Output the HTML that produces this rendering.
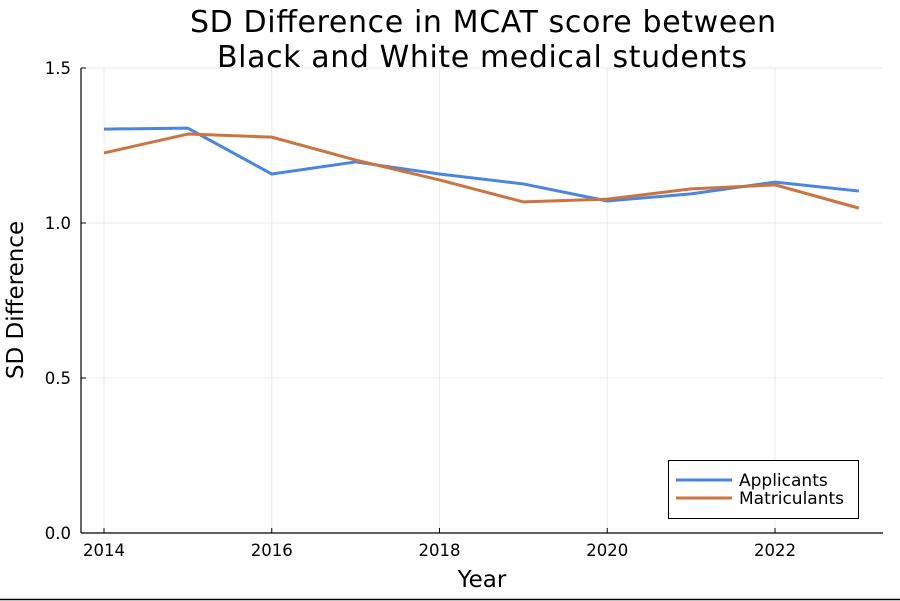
<!DOCTYPE html>
<html><head><meta charset="utf-8"><style>
body{margin:0;background:#fff;}
svg{display:block;font-family:"DejaVu Sans","Liberation Sans",sans-serif;}
</style></head><body>
<svg id="c" width="900" height="601">
<rect x="0" y="0" width="900" height="601" fill="#fff"/>
<text x="483" y="32" font-size="30" text-anchor="middle" textLength="586">SD Difference in MCAT score between</text>
<text x="482" y="67" font-size="30" text-anchor="middle" textLength="530">Black and White medical students</text>
<g id="grid"></g>
<g id="axes"></g>
<g id="series"></g>
<text x="482" y="587" font-size="23" text-anchor="middle">Year</text>
<text transform="translate(23,300) rotate(-90)" font-size="23" text-anchor="middle">SD Difference</text>
<g>
<rect x="668.5" y="460.5" width="190" height="58" fill="#fff" stroke="#000" stroke-width="1"/>
<line x1="676" y1="480" x2="732" y2="480" stroke="#4a86e0" stroke-width="3"/>
<text x="739" y="486" font-size="17">Applicants</text>
<line x1="676" y1="498" x2="732" y2="498" stroke="#cb7440" stroke-width="3"/>
<text x="739" y="504" font-size="17">Matriculants</text>
</g>
<line x1="0" y1="599.5" x2="900" y2="599.5" stroke="#000" stroke-width="1.5"/>
</svg>
<script>
const years=[2014,2015,2016,2017,2018,2019,2020,2021,2022,2023];
const applicants=[1.303,1.306,1.158,1.197,1.158,1.126,1.071,1.094,1.132,1.103];
const matriculants=[1.226,1.287,1.277,1.203,1.139,1.068,1.077,1.110,1.123,1.048];
const xTicks=[2014,2016,2018,2020,2022];
const yTicks=[0,0.5,1.0,1.5];
const yTickLabels=["0.0","0.5","1.0","1.5"];
const NS="http://www.w3.org/2000/svg";
const L=81,R=883,T=68,B=533;
function x(v){return 104+(v-2014)*(775-104)/8;}
function y(v){return 533-v*310;}
function mk(tag,attrs,parent){const e=document.createElementNS(NS,tag);for(const k in attrs)e.setAttribute(k,attrs[k]);document.getElementById(parent).appendChild(e);return e;}
xTicks.forEach(t=>{
 let g=mk('line',{x1:x(t),x2:x(t),y1:T,y2:B,stroke:'#000','stroke-opacity':0.08},'grid');
 
 
 let k=mk('line',{x1:x(t),x2:x(t),y1:B,y2:B-5,stroke:'#000'},'axes');
 
 
 let l=mk('text',{x:x(t),y:556,'font-size':16.5,'text-anchor':'middle'},'axes');l.textContent=t;
 
 
});
yTicks.forEach((t,i)=>{
 let g=mk('line',{x1:L,x2:R,y1:y(t),y2:y(t),stroke:'#000','stroke-opacity':0.08},'grid');
 
 
 let k=mk('line',{x1:L,x2:L+5,y1:y(t),y2:y(t),stroke:'#000'},'axes');
 
 
 let l=mk('text',{x:71,y:y(t)+6,'font-size':16.5,'text-anchor':'end'},'axes');l.textContent=yTickLabels[i];
 
 
});
let xa=mk('line',{x1:L,x2:R,y1:B,y2:B,stroke:'#000','stroke-width':1.2},'axes');


let ya=mk('line',{x1:L,x2:L,y1:T,y2:B,stroke:'#000','stroke-width':1.2},'axes');


function line(vals,color,name){
 const p=mk('polyline',{points:vals.map((v,i)=>x(years[i])+','+y(v)).join(' '),fill:'none',stroke:color,'stroke-width':3,'stroke-linejoin':'round'},'series');
 
 
}
line(applicants,'#4a86e0','applicants-line');
line(matriculants,'#cb7440','matriculants-line');
</script>
</body></html>
